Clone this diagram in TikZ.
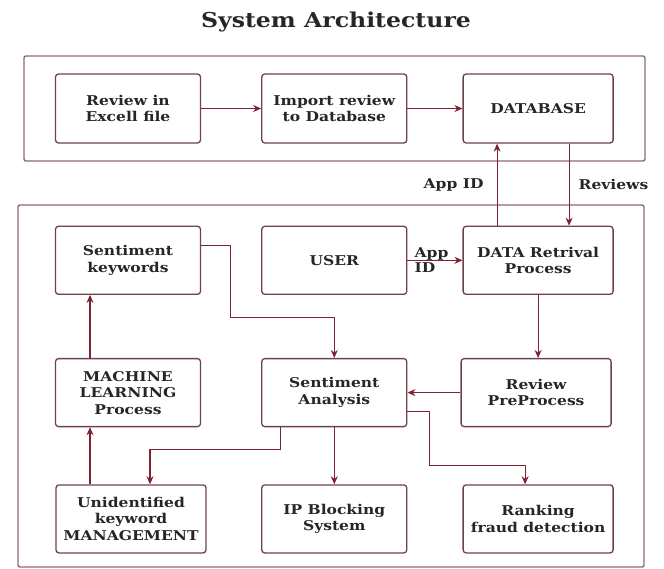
\documentclass[tikz,border=0pt]{standalone}
\usepackage{fontspec}
\setmainfont{DejaVu Serif}[FakeStretch=1.15]
\usepackage{xcolor}
\usepackage{tikz}
\usetikzlibrary{arrows.meta, positioning, calc}

\definecolor{boxline}{HTML}{6E4248}
\definecolor{arrline}{HTML}{7E2232}
\definecolor{frameline}{HTML}{8A6A6E}
\definecolor{txt}{HTML}{262626}

\begin{document}
\begin{tikzpicture}[x=1pt, y=-1pt,
    box/.style={rectangle, draw=boxline, line width=1.3pt, rounded corners=3pt,
        text=txt, font=\fontsize{13.5}{16.5}\selectfont\bfseries, minimum width=145pt,
        minimum height=68pt, align=center, inner sep=2pt},
    arr/.style={-{Stealth[length=8pt, width=7pt]}, line width=1.1pt, arrline},
    frame/.style={draw=frameline, line width=1.4pt, rounded corners=2pt},
    lbl/.style={font=\fontsize{13.5}{15}\selectfont\bfseries, text=txt, inner sep=1pt}
]
    \useasboundingbox (0,0) rectangle (664,568);
    \node[font=\fontsize{20.5}{24}\selectfont\bfseries, text=txt] (title) at (336,22) {System Architecture};

    % import stage
    \draw[frame] (24,56) rectangle (645,161);
    \node[box, minimum height=69pt] (rev) at (128,108.5) {Review in\\Excell file};
    \node[box, minimum height=69pt, right=60pt of rev] (imp) {Import review\\to Database};
    \node[box, minimum height=69pt, minimum width=150pt, right=55pt of imp] (db) {DATABASE};
    \draw[arr] (rev) -- (imp);
    \draw[arr] (imp) -- (db);

    % processing stage
    \draw[frame] (18,205) rectangle (644,567);
    \node[box, below=82pt of rev] (sk) {Sentiment\\keywords};
    \node[box, below=82pt of imp] (user) {USER};
    \node[box, minimum width=150pt, below=82pt of db] (ret) {DATA Retrival\\Process};
    \node[box, below=63pt of sk] (ml) {MACHINE\\LEARNING\\Process};
    \node[box, below=63pt of user] (sa) {Sentiment\\Analysis};
    \node[box, minimum width=150pt, below=63pt of ret, xshift=-2pt] (pre) {Review\\PreProcess};
    \node[box, minimum width=150pt, below=57pt of ml, xshift=3pt] (unk) {Unidentified\\keyword\\MANAGEMENT};
    \node[box, below=57pt of sa] (ip) {IP Blocking\\System};
    \node[box, minimum width=150pt, below=57pt of pre, xshift=2pt] (rank) {Ranking\\fraud detection};

    % links between the two stages
    \draw[arr] ([xshift=-41pt]ret.north) -- ([xshift=-41pt]db.south)
        node[lbl, pos=0.5, left=12pt] {App ID};
    \draw[arr] ([xshift=31pt]db.south) -- ([xshift=31pt]ret.north)
        node[lbl, pos=0.5, right=8pt] {Reviews};

    \draw[arr] (user) -- (ret);
    \node[lbl, align=left, anchor=west] (appid) at ([xshift=6pt]user.east) {App\\ID};
    \draw[arr] (ret.south) -- (ret.south |- pre.north);
    \draw[arr] (pre) -- (sa);
    \draw[arr] ([yshift=15pt]sk.east) -| ++(29,72) -| (sa.north);
    \draw[arr] ([xshift=-38pt]ml.north) -- ([xshift=-38pt]sk.south);
    \draw[arr] ([xshift=-41pt]unk.north) -- ([xshift=-41pt]unk.north |- ml.south);
    \draw[arr] ([xshift=-54pt]sa.south) -- ++(0,22) -| ([xshift=19pt]unk.north);
    \draw[arr] (sa) -- (ip);
    \draw[arr] ([yshift=-19pt]sa.east) -| ++(22,54) -| ([xshift=-13pt]rank.north);
\end{tikzpicture}
\end{document}
